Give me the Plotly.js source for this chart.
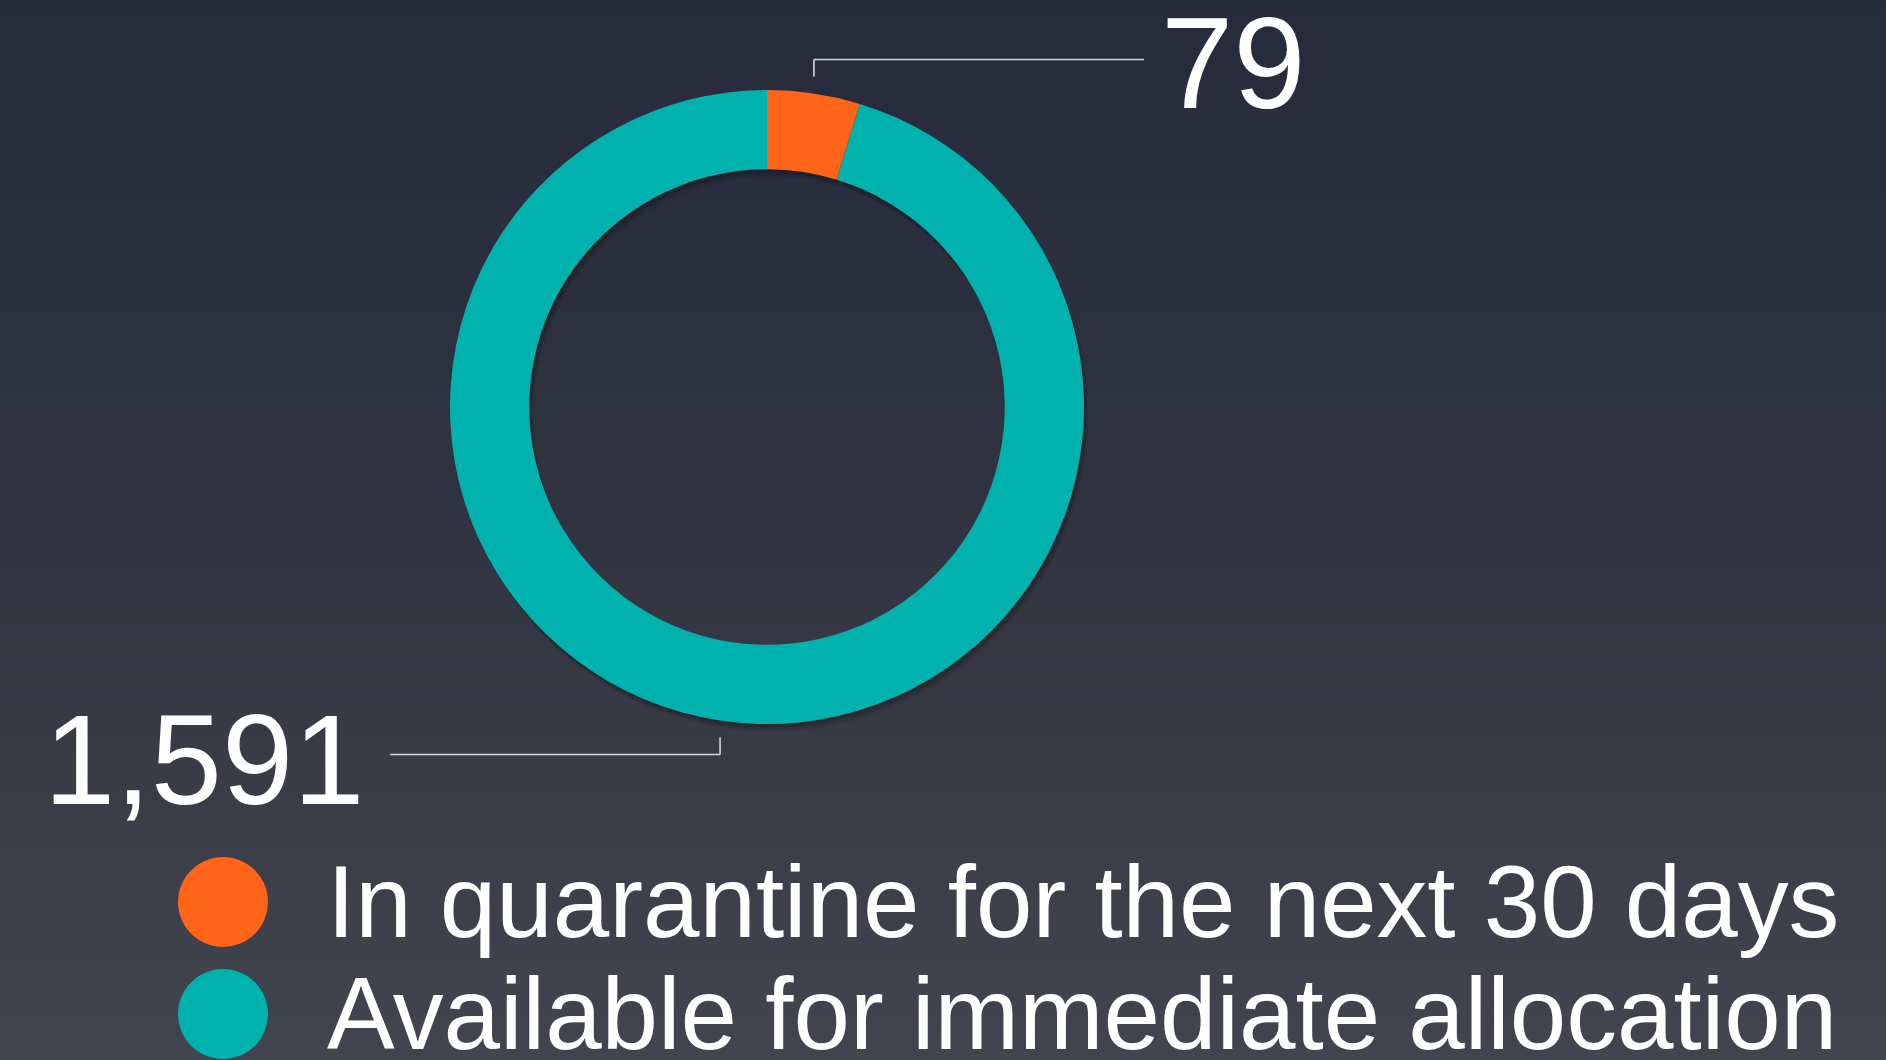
<!DOCTYPE html>
<html>
<head>
<meta charset="utf-8">
<script src="https://cdn.plot.ly/plotly-3.0.1.min.js"></script>
<style>
  html, body { margin: 0; padding: 0; width: 1886px; height: 1060px; overflow: hidden; }
  body { background: linear-gradient(to bottom, #262a3c 0%, #30333f 45%, #42444f 100%); }
  #chart { width: 1886px; height: 1060px; }
</style>
</head>
<body>
<div id="chart"></div>
<script>
// ---- data ----
const labels = ['In quarantine for the next 30 days', 'Available for immediate allocation'];
const values = [79, 1591];
const colors = ['#FF6418', '#00B2AE'];

// ---- layout constants (pixels) ----
const W = 1886, H = 1060;
const cx = 767, cy = 407, R = 317, HOLE = 0.75;
const FONT = '"Liberation Sans", Arial, Helvetica, sans-serif';

const px = x => x / W;
const py = y => 1 - y / H;
function domainAt(dx, dy) {
  return {
    x: [px(cx - R + dx), px(cx + R + dx)],
    y: [py(cy + R + dy), py(cy - R + dy)]
  };
}

const traces = [];
// soft drop shadow (layered rings)
const shadowSteps = [[1, 2, 0.11], [2, 4, 0.10], [3, 6, 0.08], [4, 8, 0.06]];
shadowSteps.forEach((s, k) => {
  traces.push({
    type: 'pie', values: [1], labels: ['shadow' + k], hole: HOLE,
    marker: { colors: ['rgba(0,0,0,' + s[2] + ')'], line: { width: 0 } },
    domain: domainAt(s[0], s[1]), textinfo: 'none', hoverinfo: 'skip',
    showlegend: false, sort: false
  });
});
// main donut
traces.push({
  type: 'pie', values: values, labels: labels, hole: HOLE,
  marker: { colors: colors, line: { width: 0 } },
  domain: domainAt(0, 0), sort: false, direction: 'clockwise', rotation: 0,
  textinfo: 'none', hoverinfo: 'label+value', showlegend: false
});

// ---- leader lines and value labels, derived from data ----
const total = values.reduce((a, b) => a + b, 0);
const shapes = [], annotations = [];
const GAP = 17, TICK = 17, HLEN = 330;
let cum = 0;
values.forEach((v, i) => {
  const mid = (cum + v / 2) / total * 2 * Math.PI;
  cum += v;
  const sx = cx + R * Math.sin(mid);
  const up = Math.cos(mid) > 0;
  const right = Math.sin(mid) >= 0;
  const yEdge = cy - R * Math.cos(mid);
  const y0 = up ? yEdge - GAP : yEdge + GAP;
  const y1 = up ? y0 - TICK : y0 + TICK;
  const xEnd = right ? sx + HLEN : sx - HLEN;
  const lineStyle = { color: '#d9d9d9', width: 1.6 };
  shapes.push({ type: 'line', xref: 'paper', yref: 'paper', x0: px(sx), y0: py(y0), x1: px(sx), y1: py(y1), line: lineStyle });
  shapes.push({ type: 'line', xref: 'paper', yref: 'paper', x0: px(sx), y0: py(y1), x1: px(xEnd), y1: py(y1), line: lineStyle });
  annotations.push({
    xref: 'paper', yref: 'paper',
    x: px(right ? xEnd + 15 : xEnd - 24), y: py(y1 + (up ? 4 : 5)),
    xanchor: right ? 'left' : 'right', yanchor: 'middle',
    text: v.toLocaleString('en-US'), showarrow: false,
    font: { family: FONT, size: right ? 130 : 128, color: '#ffffff' }
  });
});

// ---- custom legend (large circle markers) ----
const LX = 223, LR = 45, LY0 = 902, LDY = 112, LTX = 325;
labels.forEach((lab, i) => {
  const yc = LY0 + i * LDY;
  shapes.push({
    type: 'circle', xref: 'paper', yref: 'paper',
    x0: px(LX - LR), x1: px(LX + LR), y0: py(yc + LR), y1: py(yc - LR),
    fillcolor: colors[i], line: { width: 0 }
  });
  annotations.push({
    xref: 'paper', yref: 'paper', x: px(LTX), y: py(yc), xanchor: 'left', yanchor: 'middle',
    text: lab, showarrow: false,
    font: { family: FONT, size: 101.5, color: '#ffffff' }
  });
});

const layout = {
  width: W, height: H,
  margin: { l: 0, r: 0, t: 0, b: 0, pad: 0 },
  paper_bgcolor: 'rgba(0,0,0,0)', plot_bgcolor: 'rgba(0,0,0,0)',
  showlegend: false,
  shapes: shapes, annotations: annotations,
  font: { family: FONT, color: '#ffffff' }
};

Plotly.newPlot('chart', traces, layout, { displayModeBar: false, staticPlot: true });
</script>
</body>
</html>
